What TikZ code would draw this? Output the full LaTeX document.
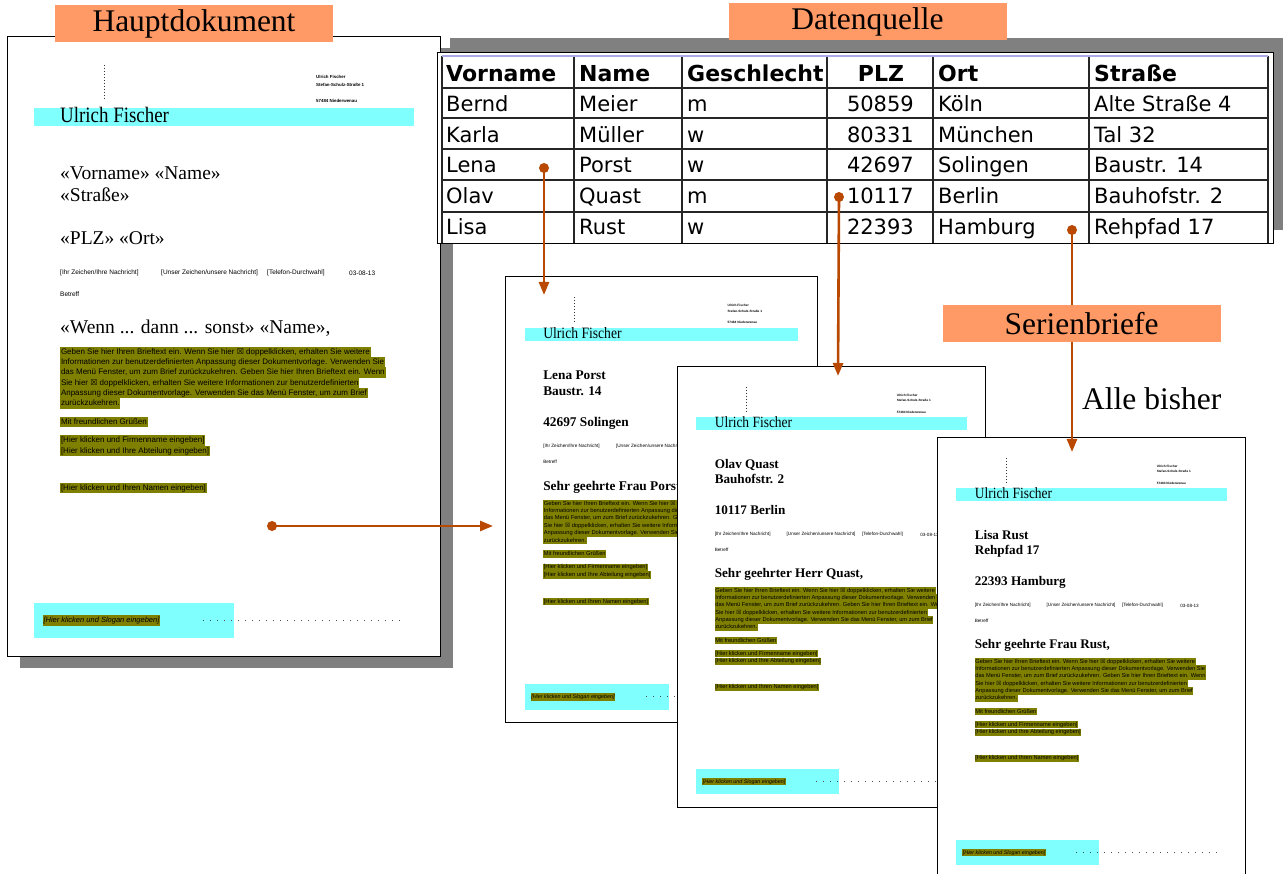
\documentclass[tikz,border=0pt]{standalone}
\usepackage{fontspec}
\setmainfont{Liberation Serif}
\newfontfamily\gridfont{DejaVu Sans}
\newfontfamily\formfont{Liberation Sans}
\usetikzlibrary{arrows.meta}

\newcommand{\setfs}[1]{\fontsize{#1}{#1}\selectfont}
\newcommand{\chk}{{\gridfont\char"2612}}

\definecolor{labelorange}{RGB}{255,153,102}
\definecolor{bandcyan}{RGB}{128,255,255}
\definecolor{fieldolive}{RGB}{128,128,0}
\definecolor{shadowgray}{RGB}{128,128,128}
\definecolor{linkbrown}{RGB}{185,72,0}
\definecolor{gridlav}{RGB}{170,170,230}

\tikzset{
  caption/.style={fill=labelorange, inner sep=0pt, minimum width=278pt, minimum height=37pt, font=\setfs{31.5}},
  sheet/.style={draw=black, line width=1.1pt, fill=white, anchor=north west, inner sep=0pt,
                minimum width=433pt, minimum height=620pt},
  foldmark/.style={line width=0.7pt, dash pattern=on 0.7pt off 2.3pt, black!80},
  sender/.style={anchor=west, inner sep=0pt, font=\formfont\bfseries\setfs{4.4}},
  band/.style={fill=bandcyan, anchor=north west, inner sep=0pt},
  field/.style={anchor=base west, inner sep=0pt},
  infotext/.style={anchor=west, inner sep=0pt, font=\formfont\setfs{6.5}},
  hilite/.style={anchor=west, fill=fieldolive, inner xsep=0.8pt, inner ysep=0pt, minimum height=10.3pt,
                 text height=6pt, text depth=1.6pt, font=\formfont\setfs{8}},
  footdots/.style={line width=0.8pt, dash pattern=on 0.8pt off 6.2pt, black!70},
  tabframe/.style={draw=black, line width=1pt, fill=white, anchor=north west, inner sep=0pt},
  gridline/.style={line width=1.4pt, black!85},
  headcell/.style={anchor=base west, inner sep=0pt, font=\gridfont\bfseries\setfs{22}},
  cell/.style={anchor=base west, inner sep=0pt, font=\gridfont\setfs{21}},
  pin/.style={circle, fill=linkbrown, inner sep=0pt, minimum size=10pt},
  link/.style={draw=linkbrown, line width=2.6pt, -{Triangle[length=13pt,width=10pt]}},
}

% One letter sheet: #1 name prefix, #2/#3 top left corner, #4 scale,
% #5 font of the address and salutation, #6-#8 address lines, #9 salutation
\newcommand{\formletter}[9]{%
  \begin{scope}[shift={(#2,#3)}, scale=#4, transform shape]
    \node[sheet] (#1-sheet) at (0,0) {};
    \draw[foldmark] (97,29) -- (97,64);
    \node[sender] (#1-s1) at (309,41) {Ulrich Fischer};
    \node[sender] (#1-s2) at (309,48.5) {Stefan-Schulz-Straße 1};
    \node[sender] (#1-s3) at (309,65) {57484 Niederwenau};
    \node[band, minimum width=380pt, minimum height=18pt] (#1-band) at (27,72) {};
    \node[anchor=base west, inner sep=0pt, font=\setfs{22}] (#1-head) at (53,86.5)
      {\scalebox{0.86}[1]{Ulrich Fischer}};
    \node[field, font=#5] (#1-a1) at (53,143.5) {#6};
    \node[field, font=#5] (#1-a2) at (53,165.5) {#7};
    \node[field, font=#5] (#1-a3) at (53,209) {#8};
    \node[infotext] (#1-i1) at (53,237) {[Ihr Zeichen/Ihre Nachricht]};
    \node[infotext] (#1-i2) at (154,237) {[Unser Zeichen/unsere Nachricht]};
    \node[infotext] (#1-i3) at (260,237) {[Telefon-Durchwahl]};
    \node[infotext] (#1-i4) at (342,237) {03-08-13};
    \node[infotext] (#1-re) at (53,258) {Betreff};
    \node[field, font=#5] (#1-salut) at (53,298) {#9};
    \node[hilite] (#1-b1) at (53,316.0) {Geben Sie hier Ihren Brieftext ein. Wenn Sie hier \chk\ doppelklicken, erhalten Sie weitere};
    \node[hilite] (#1-b2) at (53,326.3) {Informationen zur benutzerdefinierten Anpassung dieser Dokumentvorlage. Verwenden Sie};
    \node[hilite] (#1-b3) at (53,336.6) {das Menü Fenster, um zum Brief zurückzukehren. Geben Sie hier Ihren Brieftext ein. Wenn};
    \node[hilite] (#1-b4) at (53,346.9) {Sie hier \chk\ doppelklicken, erhalten Sie weitere Informationen zur benutzerdefinierten};
    \node[hilite] (#1-b5) at (53,357.2) {Anpassung dieser Dokumentvorlage. Verwenden Sie das Menü Fenster, um zum Brief};
    \node[hilite] (#1-b6) at (53,367.5) {zurückzukehren.};
    \node[hilite] (#1-greet) at (53,386) {Mit freundlichen Grüßen};
    \node[hilite] (#1-firm) at (53,404.5) {[Hier klicken und Firmenname eingeben]};
    \node[hilite] (#1-dept) at (53,415.3) {[Hier klicken und Ihre Abteilung eingeben]};
    \node[hilite] (#1-name) at (53,452) {[Hier klicken und Ihren Namen eingeben]};
    \node[band, minimum width=200pt, minimum height=35pt] (#1-foot) at (27,567) {};
    \node[hilite, font=\formfont\itshape\setfs{7.5}] (#1-slogan) at (35.5,584.5) {[Hier klicken und Slogan eingeben]};
    \draw[footdots] (196,584.5) -- (397,584.5);
  \end{scope}}

\begin{document}
\begin{tikzpicture}[x=1pt, y=-1pt]
  \useasboundingbox (0,0) rectangle (1283,874);

  % master document with its drop shadow
  \fill[shadowgray] (20,48) rectangle (453,668);
  \formletter{main}{7}{36}{1}{\setfs{19.5}}{«Vorname» «Name»}{«Straße»}{«PLZ» «Ort»}{«Wenn ... dann ... sonst» «Name»,}

  % data source table
  \fill[shadowgray] (450,38) rectangle (1283,230);
  \node[tabframe, minimum width=836pt, minimum height=191pt] (table) at (437,52) {};
  \foreach \y in {88,118,149,180,212}
    \draw[gridline] (442,\y) -- (1268,\y);
  \foreach \x in {442,574,682,827,933,1089,1268}
    \draw[gridline] (\x,56) -- (\x,243);
  \draw[gridlav, line width=1.6pt] (442,56) -- (1268,56);

  \node[headcell] (h-vn) at (446,81.5) {Vorname};
  \node[headcell] (h-nn) at (579,81.5) {Name};
  \node[headcell] (h-gs) at (687,81.5) {Geschlecht};
  \node[headcell, anchor=base] (h-plz) at (881,81.5) {PLZ};
  \node[headcell] (h-ort) at (938,81.5) {Ort};
  \node[headcell] (h-str) at (1094,81.5) {Straße};

  \foreach \vn/\nn/\gs/\plz/\ort/\str/\yb [count=\i] in {
      Bernd/Meier/m/50859/Köln/Alte Straße 4/111.7,
      Karla/Müller/w/80331/München/Tal 32/142.5,
      Lena/Porst/w/42697/Solingen/Baustr. 14/173,
      Olav/Quast/m/10117/Berlin/Bauhofstr. 2/204,
      Lisa/Rust/w/22393/Hamburg/Rehpfad 17/234.5} {
    \node[cell] (vn-\i) at (446,\yb) {\vn};
    \node[cell] (nn-\i) at (579,\yb) {\nn};
    \node[cell] (gs-\i) at (687,\yb) {\gs};
    \node[cell, anchor=base east] (plz-\i) at (914,\yb) {\plz};
    \node[cell] (ort-\i) at (938,\yb) {\ort};
    \node[cell] (str-\i) at (1094,\yb) {\str};
  }

  % merged letters
  \formletter{lena}{505}{276}{0.72}{\bfseries\setfs{18.5}}{Lena Porst}{Baustr. 14}{42697 Solingen}{Sehr geehrte Frau Porst,}
  \formletter{olav}{677}{366}{0.711}{\bfseries\setfs{18.5}}{Olav Quast}{Bauhofstr. 2}{10117 Berlin}{Sehr geehrter Herr Quast,}
  \formletter{lisa}{937}{437}{0.711}{\bfseries\setfs{18.5}}{Lisa Rust}{Rehpfad 17}{22393 Hamburg}{Sehr geehrte Frau Rust,}

  % links from the records and the master to the letters
  \node[pin] (p-main) at (272,526) {};
  \node[pin] (p-lena) at (544,168) {};
  \node[pin] (p-olav) at (839,197) {};
  \node[pin] (p-lisa) at (1072,230) {};
  \coordinate (t-main) at (493,526);
  \coordinate (t-lena) at (544,295);
  \coordinate (t-olav) at (838,376);
  \coordinate (t-lisa) at (1072,452);
  \draw[link] (p-main.center) -- (t-main);
  \draw[link] (p-lena.center) -- (t-lena);
  \draw[link] (p-olav.center) -- (t-olav);
  \draw[link] (p-lisa.center) -- (t-lisa);

  % captions
  \node[caption] (cap-main) at (194,23.5) {Hauptdokument};
  \node[caption] (cap-data) at (867.5,21.5) {Datenquelle};
  \node[caption] (cap-series) at (1081.5,324) {Serienbriefe};
  \node[anchor=base west, inner sep=0pt, font=\setfs{31.5}] (note) at (1082,410) {Alle bisher};
\end{tikzpicture}
\end{document}
